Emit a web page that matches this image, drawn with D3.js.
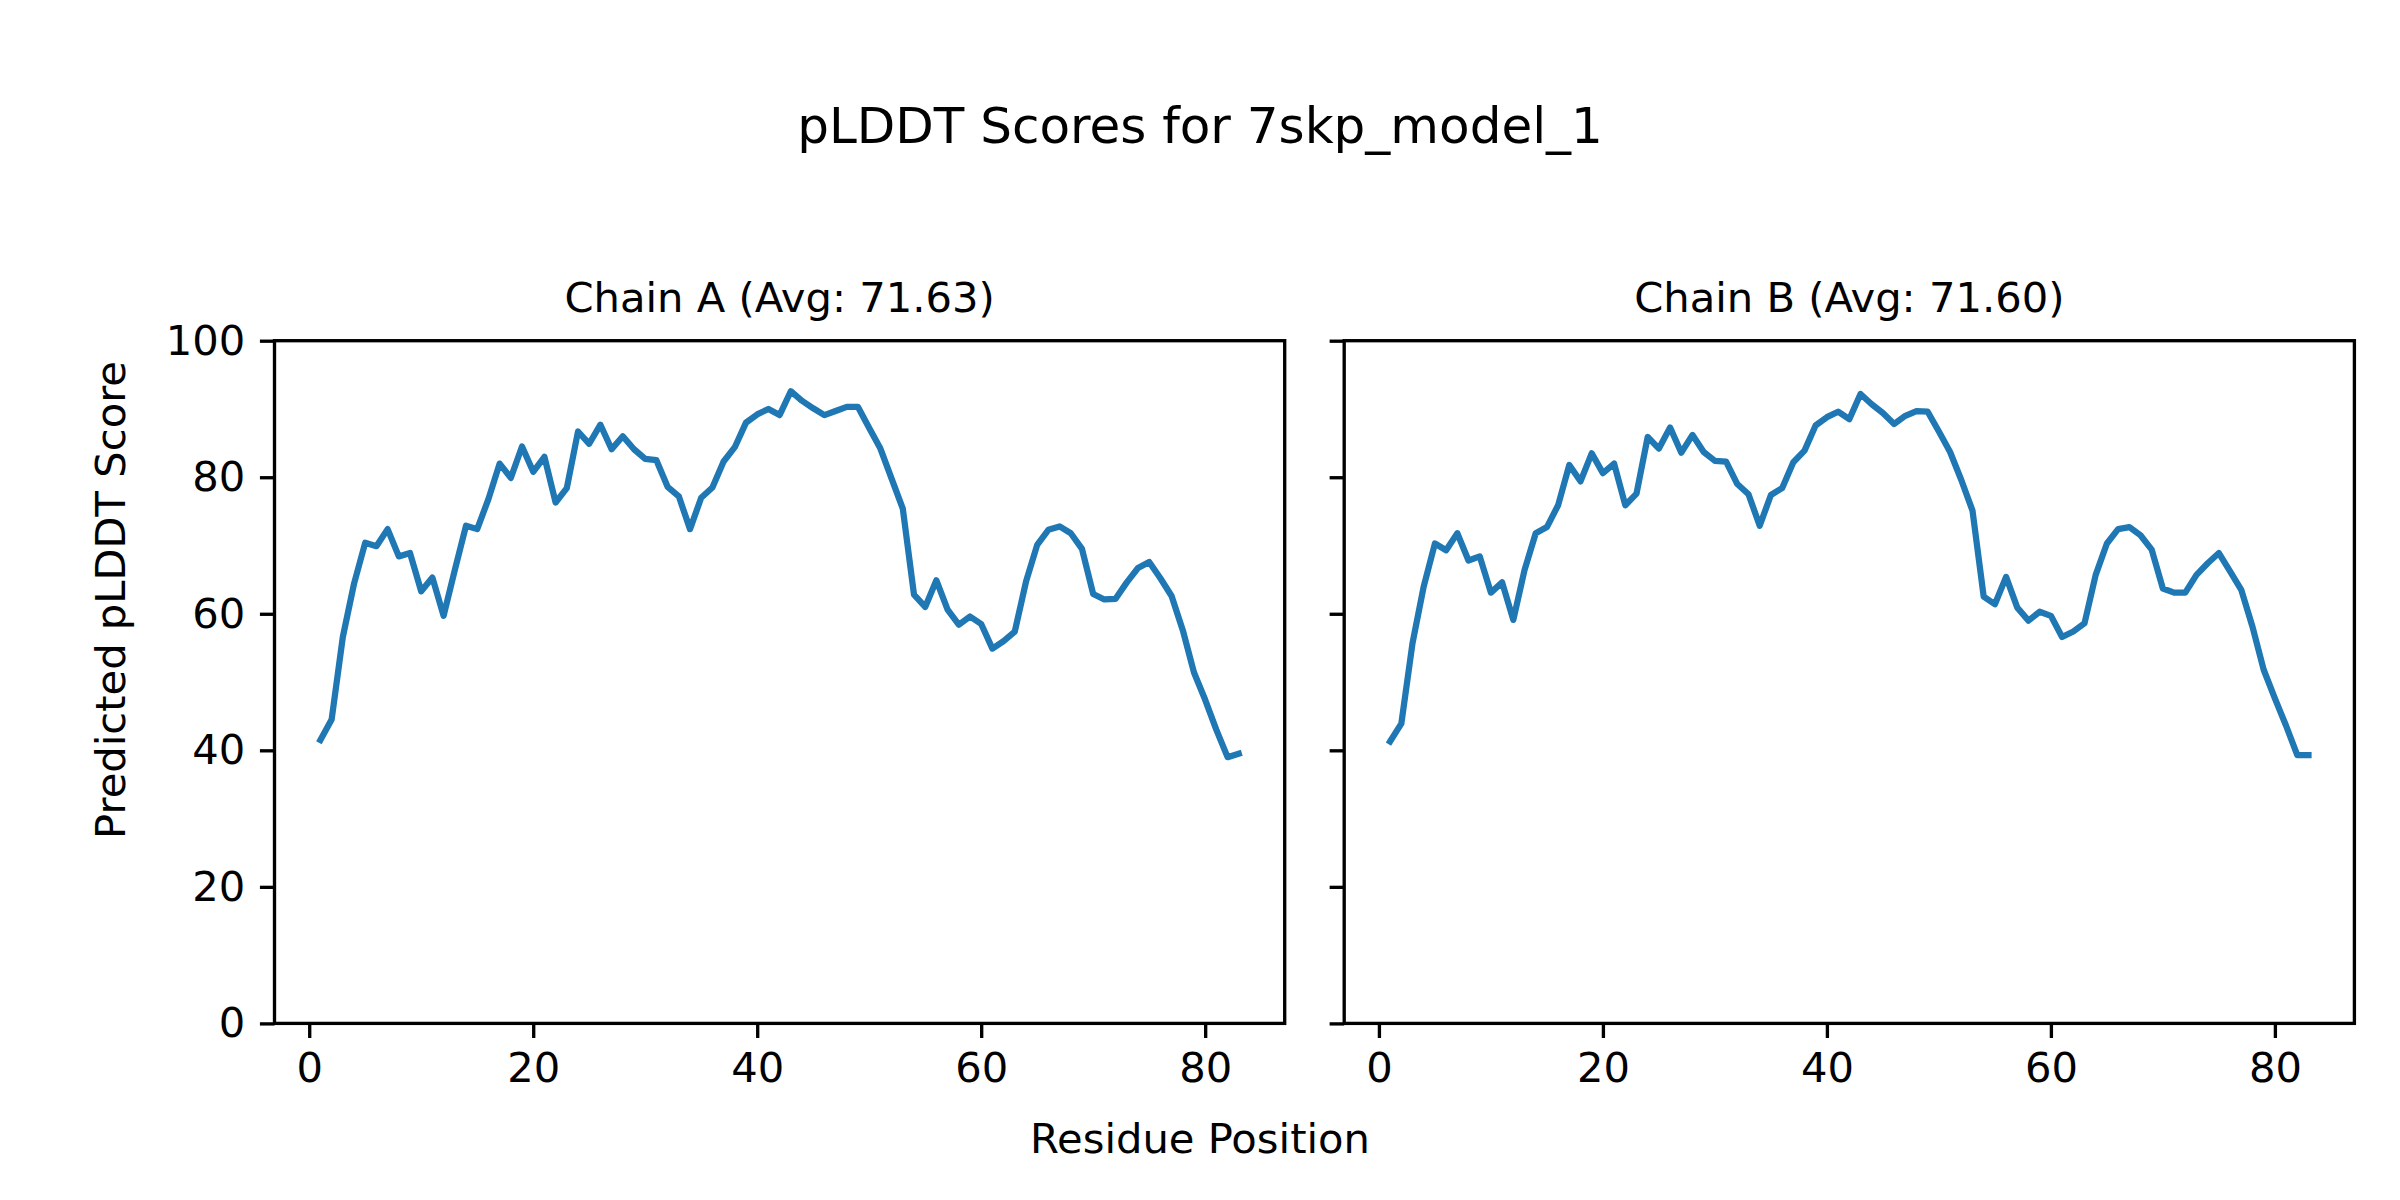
<!DOCTYPE html>
<html>
<head>
<meta charset="utf-8">
<script src="https://cdn.jsdelivr.net/npm/d3@7"></script>
<style>
  html, body { margin: 0; padding: 0; background: #ffffff; }
  svg { display: block; }
  text { font-family: "DejaVu Sans", sans-serif; fill: #000; }
</style>
</head>
<body>
<script>
// ---- data ----
const suptitle = "pLDDT Scores for 7skp_model_1";
const xLabel = "Residue Position";
const yLabel = "Predicted pLDDT Score";
const chainTitles = ["Chain A (Avg: 71.63)", "Chain B (Avg: 71.60)"];
const xTicks = [0, 20, 40, 60, 80];
const yTicks = [0, 20, 40, 60, 80, 100];

const chainA = [41.5,44.5,56.6,64.4,70.4,69.9,72.4,68.4,68.9,63.3,
                65.3,59.7,66.4,72.9,72.4,76.8,82.0,79.9,84.5,80.8,
                83.0,76.3,78.4,86.7,84.9,87.7,84.1,86.0,84.1,82.7,
                82.5,78.6,77.2,72.4,77.0,78.5,82.3,84.4,88.0,89.2,
                90.0,89.1,92.6,91.2,90.1,89.1,89.7,90.3,90.3,87.2,
                84.2,79.8,75.4,62.8,61.0,64.9,60.6,58.4,59.6,58.5,
                54.9,56.0,57.4,64.7,70.1,72.3,72.8,71.8,69.5,62.9,
                62.1,62.2,64.6,66.7,67.6,65.2,62.6,57.6,51.4,47.4,
                43.0,39.0,39.5];
const chainB = [41.3,43.9,55.7,64.0,70.3,69.3,71.8,67.8,68.4,63.1,
                64.6,59.1,66.4,71.8,72.7,75.9,81.8,79.4,83.5,80.6,
                82.0,75.9,77.6,85.9,84.2,87.3,83.6,86.2,83.7,82.4,
                82.3,79.0,77.5,72.9,77.4,78.4,82.2,83.9,87.6,88.8,
                89.6,88.5,92.2,90.7,89.4,87.8,89.0,89.7,89.6,86.7,
                83.7,79.6,75.1,62.5,61.4,65.4,60.9,59.0,60.3,59.7,
                56.6,57.4,58.6,65.7,70.3,72.4,72.7,71.5,69.4,63.7,
                63.1,63.1,65.7,67.4,68.9,66.2,63.5,58.1,51.8,47.6,
                43.6,39.3,39.3];

// ---- layout ----
const W = 2400, H = 1200;
const FS = 41.67, TFS = 50;
const tickLen = 14.58, tickPad = 14.58, spineW = 3.33, lineW = 6.25;
const plotTop = 340.7, plotBottom = 1023.4;
const panels = [
  { left: 274.5, right: 1284.7, data: chainA, title: chainTitles[0], labels: true },
  { left: 1344.2, right: 2354.4, data: chainB, title: chainTitles[1], labels: false }
];

const svg = d3.select("body").append("svg")
  .attr("width", W).attr("height", H)
  .attr("viewBox", `0 0 ${W} ${H}`);
svg.append("rect").attr("width", W).attr("height", H).attr("fill", "#fff");

const y = d3.scaleLinear().domain([0, 100]).range([plotBottom, plotTop]);

panels.forEach(p => {
  const n = p.data.length;
  const pad = (n - 1) * 0.05;
  const x = d3.scaleLinear().domain([1 - pad, n + pad]).range([p.left, p.right]);
  const g = svg.append("g");

  // line
  const line = d3.line().x((d, i) => x(i + 1)).y(d => y(d));
  g.append("path").datum(p.data)
    .attr("d", line)
    .attr("fill", "none")
    .attr("stroke", "#1f77b4")
    .attr("stroke-width", lineW)
    .attr("stroke-linejoin", "round")
    .attr("stroke-linecap", "square");

  // x axis
  const xa = g.append("g").attr("transform", `translate(0,${plotBottom})`)
    .call(d3.axisBottom(x).tickValues(xTicks).tickSize(tickLen).tickPadding(tickPad).tickSizeOuter(0));
  // y axis
  const ya = g.append("g").attr("transform", `translate(${p.left},0)`)
    .call(d3.axisLeft(y).tickValues(yTicks).tickSize(tickLen).tickPadding(tickPad).tickSizeOuter(0)
      .tickFormat(p.labels ? d3.format("d") : () => ""));
  [xa, ya].forEach(a => {
    a.select(".domain").remove();
    a.selectAll(".tick line").attr("stroke", "#000").attr("stroke-width", spineW);
    a.selectAll(".tick text").attr("font-size", FS).attr("font-family", "DejaVu Sans").attr("fill", "#000");
  });

  // frame
  g.append("rect")
    .attr("x", p.left).attr("y", plotTop)
    .attr("width", p.right - p.left).attr("height", plotBottom - plotTop)
    .attr("fill", "none").attr("stroke", "#000").attr("stroke-width", spineW)
    .attr("stroke-linejoin", "miter");

  // title
  g.append("text")
    .attr("x", (p.left + p.right) / 2).attr("y", 312)
    .attr("text-anchor", "middle").attr("font-size", FS)
    .text(p.title);
});

// suptitle
svg.append("text").attr("x", 1200).attr("y", 143)
  .attr("text-anchor", "middle").attr("font-size", TFS).text(suptitle);
// supxlabel
svg.append("text").attr("x", 1200).attr("y", 1153)
  .attr("text-anchor", "middle").attr("font-size", FS).text(xLabel);
// supylabel
svg.append("text").attr("transform", "translate(125,600) rotate(-90)")
  .attr("text-anchor", "middle").attr("font-size", FS).text(yLabel);
</script>
</body>
</html>
